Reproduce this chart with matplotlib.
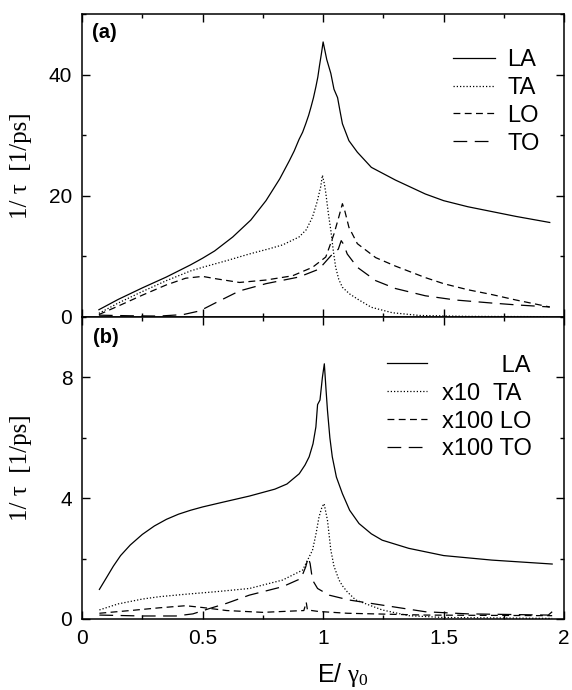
import matplotlib
matplotlib.use('Agg')
import matplotlib.pyplot as plt
from matplotlib.ticker import MultipleLocator

plt.rcParams['font.family'] = ['Liberation Sans', 'DejaVu Sans']
plt.rcParams['mathtext.fontset'] = 'custom'
plt.rcParams['mathtext.rm'] = 'Liberation Serif'
plt.rcParams['mathtext.it'] = 'Liberation Serif'
plt.rcParams['mathtext.sf'] = 'Liberation Sans'

# === Panel (a) data: scattering rates [1/ps] ===
a_la_x = [0.07, 0.15, 0.25, 0.35, 0.45, 0.5, 0.55, 0.625, 0.7, 0.763, 0.82, 0.86, 0.88, 0.9,
          0.915, 0.928, 0.94, 0.95, 0.96, 0.97, 0.978, 0.985, 0.993, 1.0, 1.015, 1.032, 1.045,
          1.06, 1.07, 1.08, 1.107, 1.142, 1.2, 1.3, 1.424, 1.5, 1.6, 1.7, 1.8, 1.94]
a_la_y = [1.2, 2.9, 4.8, 6.6, 8.6, 9.7, 10.9, 13.2, 16.0, 19.2, 22.8, 25.8, 27.4, 29.3,
          30.5, 31.9, 33.3, 34.7, 36.2, 38.0, 39.6, 41.5, 43.5, 45.4, 42.5, 40.2, 37.6,
          36.2, 34.0, 31.9, 29.1, 27.2, 24.7, 22.6, 20.3, 19.2, 18.2, 17.4, 16.6, 15.6]

a_ta_x = [0.07, 0.15, 0.25, 0.35, 0.45, 0.5, 0.6, 0.694, 0.78, 0.832, 0.9, 0.93, 0.956, 0.975,
          0.99, 0.997, 1.005, 1.011, 1.022, 1.032, 1.042, 1.052, 1.065, 1.08, 1.11, 1.149,
          1.2, 1.287, 1.4, 1.6, 1.94]
a_ta_y = [0.6, 2.3, 4.2, 6.0, 7.6, 8.2, 9.3, 10.4, 11.3, 11.9, 13.2, 14.4, 16.5, 19.0,
          21.5, 23.4, 22.0, 20.5, 17.0, 14.3, 11.0, 8.2, 6.2, 4.9, 3.8, 2.8,
          1.6, 0.7, 0.25, 0.1, 0.05]

a_lo_x = [0.07, 0.15, 0.25, 0.35, 0.43, 0.5, 0.557, 0.653, 0.763, 0.873, 0.956, 1.011, 1.03,
          1.045, 1.065, 1.08, 1.09, 1.107, 1.142, 1.218, 1.3, 1.424, 1.5, 1.6, 1.7, 1.8, 1.94]
a_lo_y = [0.4, 1.8, 3.6, 5.3, 6.4, 6.7, 6.3, 5.7, 6.1, 6.8, 8.2, 9.9, 12.0,
          13.7, 16.5, 18.7, 17.5, 14.8, 12.1, 9.8, 8.4, 6.5, 5.5, 4.5, 3.7, 2.8, 1.65]

a_to_x = [0.07, 0.2, 0.32, 0.42, 0.488, 0.557, 0.653, 0.763, 0.9, 0.983, 1.032, 1.063, 1.075,
          1.085, 1.1, 1.142, 1.218, 1.3, 1.424, 1.55, 1.7, 1.8, 1.94]
a_to_y = [0.3, 0.2, 0.15, 0.4, 1.0, 2.4, 4.3, 5.5, 6.6, 7.9, 10.1, 11.2, 12.6,
          12.0, 10.4, 8.2, 6.0, 4.7, 3.5, 2.8, 2.3, 2.0, 1.65]

# === Panel (b) data (TA x10, LO and TO x100) ===
b_la_x = [0.072, 0.1, 0.13, 0.16, 0.2, 0.25, 0.3, 0.35, 0.4, 0.45, 0.5, 0.58, 0.694, 0.8,
          0.85, 0.901, 0.925, 0.942, 0.958, 0.97, 0.977, 0.987, 0.997, 1.005, 1.012, 1.018,
          1.028, 1.038, 1.055, 1.08, 1.11, 1.149, 1.2, 1.245, 1.355, 1.5, 1.7, 1.95]
b_la_y = [0.98, 1.35, 1.75, 2.1, 2.45, 2.8, 3.08, 3.3, 3.47, 3.6, 3.71, 3.86, 4.07, 4.3,
          4.47, 4.81, 5.1, 5.37, 5.8, 6.36, 7.1, 7.25, 8.0, 8.45, 7.6, 6.91,
          6.0, 5.37, 4.7, 4.15, 3.6, 3.16, 2.82, 2.61, 2.34, 2.1, 1.95, 1.82]

b_ta_x = [0.072, 0.15, 0.25, 0.322, 0.43, 0.55, 0.694, 0.832, 0.915, 0.956, 0.97, 0.983, 0.995,
          1.004, 1.018, 1.032, 1.045, 1.066, 1.08, 1.1, 1.135, 1.245, 1.355, 1.5, 1.95]
b_ta_y = [0.3, 0.5, 0.66, 0.74, 0.82, 0.9, 1.01, 1.29, 1.62, 2.28, 2.8, 3.38, 3.7,
          3.82, 3.27, 2.28, 1.75, 1.29, 1.1, 0.9, 0.63, 0.30, 0.11, 0.05, 0.02]

b_lo_x = [0.072, 0.2, 0.32, 0.43, 0.5, 0.6, 0.75, 0.92, 0.93, 0.935, 0.98, 1.1, 1.424, 1.95]
b_lo_y = [0.19, 0.28, 0.37, 0.44, 0.38, 0.28, 0.22, 0.28, 0.55, 0.3, 0.25, 0.19, 0.13, 0.11]

b_to_x = [0.072, 0.25, 0.39, 0.46, 0.53, 0.6, 0.694, 0.832, 0.908, 0.928, 0.938, 0.946, 0.956,
          0.977, 1.025, 1.107, 1.245, 1.424, 1.6, 1.934, 1.95]
b_to_y = [0.13, 0.1, 0.1, 0.17, 0.35, 0.52, 0.79, 1.07, 1.34, 1.73, 2.04, 1.84, 1.29,
          1.01, 0.79, 0.63, 0.46, 0.24, 0.17, 0.13, 0.24]

labels_a = ['LA', 'TA', 'LO', 'TO']
labels_b = ['         LA', 'x10  TA', 'x100 LO', 'x100 TO']

styles = ['-', (0, (1, 1.6)), (0, (5.5, 3.5)), (0, (11, 6))]

# === Plot ===
fig = plt.figure(figsize=(5.72, 6.9), dpi=100)
ax_a = fig.add_axes([0.1434, 0.5406, 0.843, 0.439])
ax_b = fig.add_axes([0.1434, 0.1029, 0.843, 0.4377])

series_a = [(a_la_x, a_la_y), (a_ta_x, a_ta_y), (a_lo_x, a_lo_y), (a_to_x, a_to_y)]
series_b = [(b_la_x, b_la_y), (b_ta_x, b_ta_y), (b_lo_x, b_lo_y), (b_to_x, b_to_y)]

for (x, y), ls, lab in zip(series_a, styles, labels_a):
    ax_a.plot(x, y, color='black', lw=0.9, ls=ls, label=lab)
for (x, y), ls, lab in zip(series_b, styles, labels_b):
    ax_b.plot(x, y, color='black', lw=0.9, ls=ls, label=lab)

ax_a.set_ylim(0, 50)
ax_b.set_ylim(0, 10)
for ax in (ax_a, ax_b):
    ax.set_xlim(0, 2)
    ax.xaxis.set_major_locator(MultipleLocator(0.5))
    ax.xaxis.set_minor_locator(MultipleLocator(0.25))
    ax.tick_params(which='both', direction='in', top=True, right=True, width=1)
    ax.tick_params(which='major', length=6, pad=7, labelsize=15)
    ax.tick_params(which='minor', length=3)
    for sp in ax.spines.values():
        sp.set_linewidth(1.1)

ax_a.yaxis.set_major_locator(MultipleLocator(20))
ax_a.yaxis.set_minor_locator(MultipleLocator(10))
ax_b.yaxis.set_major_locator(MultipleLocator(4))
ax_b.yaxis.set_minor_locator(MultipleLocator(2))
ax_a.tick_params(labelbottom=False)
ax_b.set_xticks([0, 0.5, 1, 1.5, 2])
ax_b.set_xticklabels(['0', '0.5', '1', '1.5', '2'])

for ax in (ax_a, ax_b):
    ax.set_ylabel('1/ τ  [1/ps]', family='Liberation Serif', fontsize=18)
    ax.yaxis.set_label_coords(-0.104, 0.5)

ax_b.set_xlabel(r'$\mathsf{E/}\ \gamma_0$', fontsize=18)
ax_b.xaxis.set_label_coords(0.54, -0.14)

ax_a.text(0.021, 0.97, '(a)', transform=ax_a.transAxes, fontsize=14.5,
          fontweight='bold', va='top', ha='left')
ax_b.text(0.023, 0.965, '(b)', transform=ax_b.transAxes, fontsize=14.5,
          fontweight='bold', va='top', ha='left')

ax_a.legend(loc='upper left', bbox_to_anchor=(0.77, 0.885), frameon=False, fontsize=17,
            borderpad=0, borderaxespad=0, handlelength=1.75, handletextpad=0.55,
            labelspacing=0.25)
ax_b.legend(loc='upper left', bbox_to_anchor=(0.633, 0.875), frameon=False, fontsize=17,
            borderpad=0, borderaxespad=0, handlelength=1.7, handletextpad=0.62,
            labelspacing=0.25)

fig.savefig('out.png', dpi=100)
